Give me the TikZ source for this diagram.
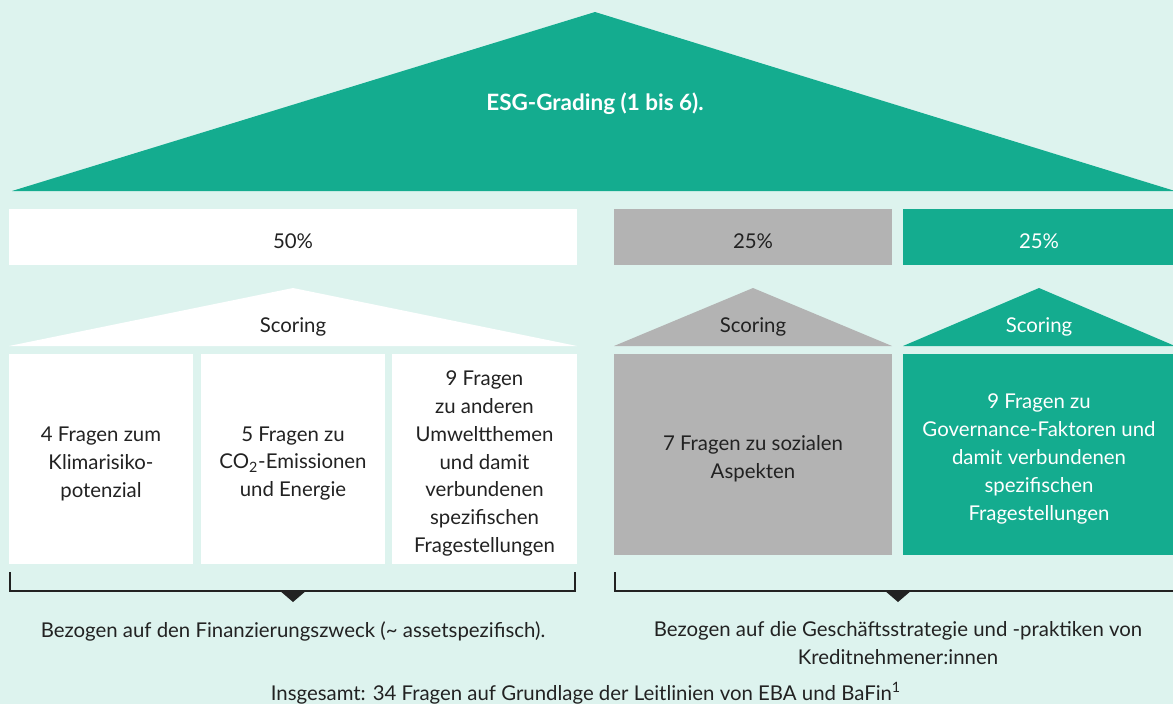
\documentclass[tikz,border=0pt]{standalone}
\usepackage{fontspec}
\setmainfont{Lato}

\definecolor{mint}{RGB}{221,243,238}
\definecolor{esggreen}{RGB}{20,172,143}
\definecolor{esggray}{RGB}{179,179,179}
\definecolor{ink}{RGB}{34,34,34}

\begin{document}
\begin{tikzpicture}[
  x=0.02cm, y=-0.02cm, line join=miter,
  font=\fontsize{11.6}{15.9}\selectfont,
  bar/.style={minimum height=1.12cm, inner sep=0pt},
  cell/.style={minimum height=4.2cm, inner sep=0pt},
  txt/.style={align=center, text=ink, yshift=-0.09cm},
  label/.style={align=center, text=ink},
  brace/.style={draw=ink, line width=1.1pt}
]

  % ── Background ────────────────────────────────────────────────────────────
  \fill[mint] (0,0) rectangle (1173,704);
  \useasboundingbox (0,0) rectangle (1173,704);

  % ── Main roof ─────────────────────────────────────────────────────────────
  \fill[esggreen] (12,191) -- (595,12) -- (1175,191) -- cycle;
  \node[text=white, font=\fontsize{12.8}{15.9}\selectfont\bfseries] (grading)
      at (595,104) {ESG-Grading (1 bis 6).};

  % ── Weights ───────────────────────────────────────────────────────────────
  \node[bar, fill=white,    minimum width=11.36cm] (w50)  at (293,237)  {};
  \node[bar, fill=esggray,  minimum width=5.56cm]  (w25s) at (753,237)  {};
  \node[bar, fill=esggreen, minimum width=5.44cm]  (w25g) at (1039,237) {};
  \node[txt]             at (w50.center)  {50\%};
  \node[txt]             at (w25s.center) {25\%};
  \node[txt, text=white] at (w25g.center) {25\%};

  % ── Scoring roofs ─────────────────────────────────────────────────────────
  \fill[white]    (9,346)   -- (293,288)  -- (577,346)  -- cycle;
  \fill[esggray]  (614,346) -- (753,288)  -- (892,346)  -- cycle;
  \fill[esggreen] (903,346) -- (1039,288) -- (1175,346) -- cycle;
  \node[label]             (scE) at (293,327)  {Scoring};
  \node[label]             (scS) at (753,327)  {Scoring};
  \node[label, text=white] (scG) at (1039,327) {Scoring};

  % ── Question blocks ───────────────────────────────────────────────────────
  \node[cell, fill=white, minimum width=3.68cm] (klima)  at (101,459)   {};
  \node[cell, fill=white, minimum width=3.68cm] (co2)    at (293,459)   {};
  \node[cell, fill=white, minimum width=3.70cm] (umwelt) at (484.5,459) {};
  \node[cell, fill=esggray,  minimum width=5.56cm, minimum height=4.02cm]
      (sozial) at (753,454.5)  {};
  \node[cell, fill=esggreen, minimum width=5.44cm, minimum height=4.02cm]
      (gov)    at (1039,454.5) {};

  \node[txt] at (klima.center)  {4 Fragen zum\\Klimarisiko-\\potenzial};
  \node[txt] at (co2.center)    {5 Fragen zu\\CO\textsubscript{2}-Emissionen\\und Energie};
  \node[txt] at (umwelt.center)
      {9 Fragen\\zu anderen\\Umweltthemen\\und damit\\verbundenen\\spezifischen\\Fragestellungen};
  \node[txt] at (sozial.center) {7 Fragen zu sozialen\\Aspekten};
  \node[txt, text=white] at (gov.center)
      {9 Fragen zu\\Governance-Faktoren und\\damit verbundenen\\spezifischen\\Fragestellungen};

  % ── Brackets ──────────────────────────────────────────────────────────────
  \draw[brace] (10,572) -- (10,591) -- (575,591) -- (575,572);
  \fill[ink] (279,590) -- (307,590) -- (293,602) -- cycle;
  \draw[brace] (615,572) -- (615,591) -- (1175,591);
  \fill[ink] (884,590) -- (912,590) -- (898,602) -- cycle;

  % ── Captions ──────────────────────────────────────────────────────────────
  \node[label] (capE) at (293,631)
      {Bezogen auf den Finanzierungszweck (\textasciitilde{} assetspezifisch).};
  \node[label] (capSG) at (898,643)
      {Bezogen auf die Geschäftsstrategie und -praktiken von\\Kreditnehmener:innen};
  \node[label] (total) at (586,693)
      {Insgesamt: 34 Fragen auf Grundlage der Leitlinien von EBA und BaFin\textsuperscript{1}};

\end{tikzpicture}
\end{document}
